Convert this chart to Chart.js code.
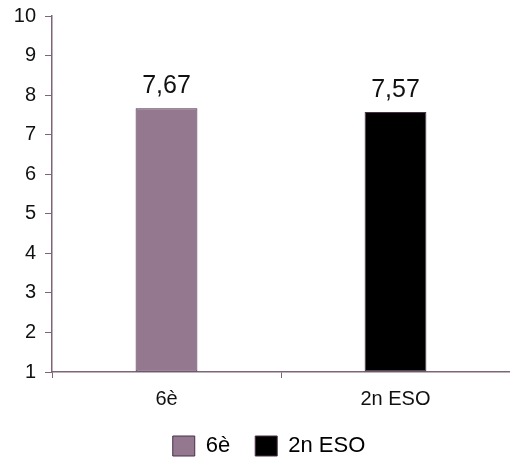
<!DOCTYPE html>
<html><head><meta charset="utf-8">
<script src="https://cdn.jsdelivr.net/npm/chart.js@4"></script>
<style>html,body{margin:0;padding:0;background:#fff}#w{width:510px;height:459px}</style>
</head><body><div id="w"><canvas id="c"></canvas></div>
<script>
const categories = ["6è", "2n ESO"];
const values = [7.67, 7.57];
const valueLabels = ["7,67", "7,57"];
const barColors = ["#937890", "#000000"];
const yTicks = [1,2,3,4,5,6,7,8,9,10];

const axisColor = "#7d6478";
const font = "'Liberation Sans', Arial, sans-serif";

const labelPlugin = {
  id: 'vlabels',
  afterDatasetsDraw(chart) {
    const ctx = chart.ctx;
    const meta = chart.getDatasetMeta(0);
    ctx.save();
    ctx.font = "25px " + font;
    ctx.fillStyle = "#111";
    ctx.textAlign = "center";
    ctx.textBaseline = "alphabetic";
    meta.data.forEach((bar, i) => {
      ctx.fillText(valueLabels[i], bar.x, bar.y - 15);
    });
    ctx.restore();
  }
};

const legendShift = {
  id: 'legendShift',
  afterLayout(chart) {
    if (chart.legend) { chart.legend.left += 14; chart.legend.right += 14; }
  }
};

new Chart(document.getElementById('c'), {
  type: 'bar',
  data: {
    labels: categories,
    datasets: [{
      data: values,
      backgroundColor: barColors,
      borderColor: "#4a3048",
      borderWidth: 1,
      borderSkipped: false,
      categoryPercentage: 0.27,
      barPercentage: 1.0,
      base: 1
    }]
  },
  options: {
    responsive: true,
    maintainAspectRatio: false,
    animation: false,
    layout: { padding: { left: 0, right: 0, top: 16, bottom: -8 } },
    plugins: {
      tooltip: { enabled: false },
      legend: {
        position: 'bottom',
        labels: {
          font: { family: font, size: 22 },
          color: "#111",
          boxWidth: 22,
          boxHeight: 20,
          padding: 25,
          generateLabels(chart) {
            return categories.map((c, i) => ({
              text: c,
              fillStyle: barColors[i],
              strokeStyle: "#4a3048",
              lineWidth: 1,
              hidden: false,
              index: i
            }));
          }
        },
        onClick: null
      }
    },
    scales: {
      x: {
        afterFit(axis) { axis.height = 38; },
        grid: { offset: true, drawOnChartArea: false, color: axisColor, tickLength: 6, tickColor: axisColor },
        border: { color: axisColor, width: 1.5 },
        ticks: { font: { family: font, size: 20 }, color: "#111", padding: 9 }
      },
      y: {
        min: 1, max: 10,
        afterBuildTicks(axis) { axis.ticks = yTicks.map(v => ({ value: v })); },
        afterFit(axis) { axis.width = 52; axis.paddingTop = 4; axis.paddingBottom = 4; },
        grid: { drawOnChartArea: false, color: axisColor, tickLength: 7, tickColor: axisColor },
        border: { color: axisColor, width: 1.5 },
        ticks: { font: { family: font, size: 20 }, color: "#111", padding: 9 }
      }
    }
  },
  plugins: [labelPlugin, legendShift]
});
</script>
</body></html>
